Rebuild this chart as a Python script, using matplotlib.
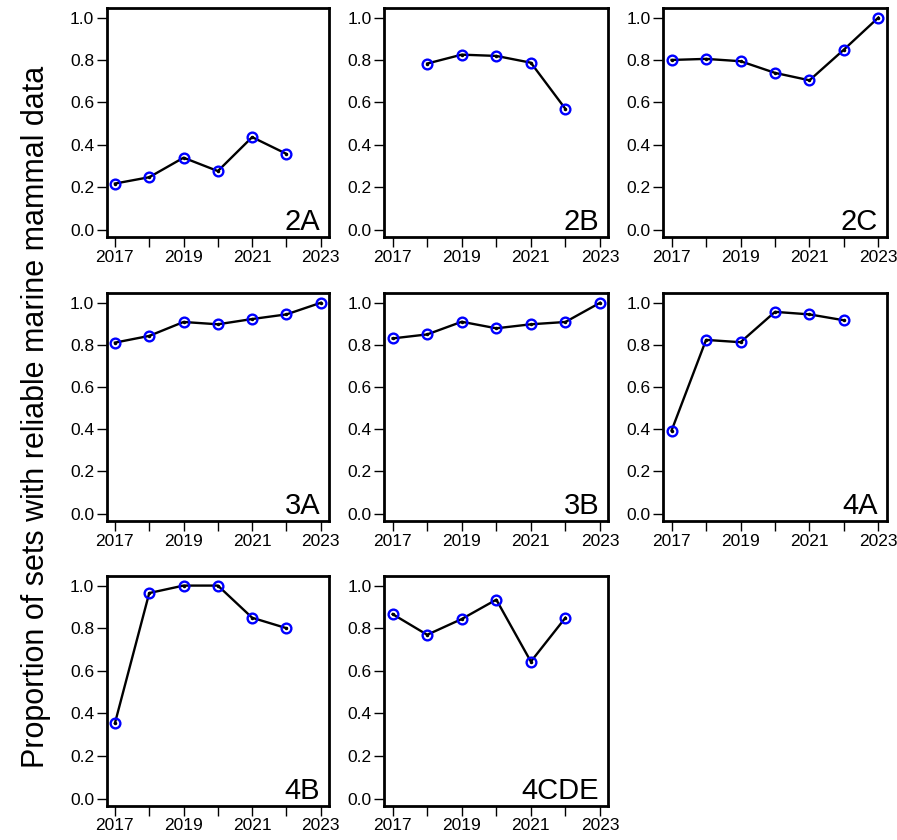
import matplotlib
matplotlib.use('Agg')
import matplotlib.pyplot as plt

plt.rcParams['font.family'] = ['Liberation Sans', 'DejaVu Sans']

# Datos por area
anios = [2017, 2018, 2019, 2020, 2021, 2022, 2023]
areas = ['2A', '2B', '2C', '3A', '3B', '4A', '4B', '4CDE']

a_2A = [0.217, 0.247, 0.339, 0.276, 0.436, 0.357, None]
a_2B = [None, 0.783, 0.825, 0.819, 0.787, 0.569, None]
a_2C = [0.800, 0.805, 0.794, 0.739, 0.704, 0.849, 1.0]
a_3A = [0.811, 0.843, 0.909, 0.898, 0.923, 0.945, 1.0]
a_3B = [0.831, 0.850, 0.910, 0.879, 0.898, 0.909, 1.0]
a_4A = [0.394, 0.824, 0.813, 0.957, 0.945, 0.917, None]
a_4B = [0.354, 0.965, 1.0, 1.0, 0.849, 0.800, None]
a_4CDE = [0.866, 0.769, 0.843, 0.934, 0.643, 0.849, None]
valores = [a_2A, a_2B, a_2C, a_3A, a_3B, a_4A, a_4B, a_4CDE]

W, H = 897, 840
fig = plt.figure(figsize=(W / 100, H / 100), dpi=100)

# posiciones de los paneles en pixeles (izq, der) y (arriba, abajo)
cols = [(106.7, 329), (384.3, 608.3), (663.3, 886.7)]
filas = [(8, 237), (293.3, 521), (576, 806)]

for i, (area, vals) in enumerate(zip(areas, valores)):
    x0, x1 = cols[i % 3]
    y0, y1 = filas[i // 3]
    ax = fig.add_axes([x0 / W, 1 - y1 / H, (x1 - x0) / W, (y1 - y0) / H])
    xs = [a for a, v in zip(anios, vals) if v is not None]
    ys = [v for v in vals if v is not None]
    ax.plot(xs, ys, color='black', lw=1.7, zorder=2)
    ax.plot(xs, ys, 'o', mfc='none', mec='blue', ms=7, mew=1.7, zorder=3)
    ax.plot(xs, ys, 'o', color='black', ms=1.5, zorder=4)
    ax.set_xlim(2016.76, 2023.24)
    ax.set_ylim(-0.035, 1.045)
    ax.set_xticks(anios)
    ax.set_xticklabels([str(a) if a % 2 == 1 else '' for a in anios])
    ax.set_yticks([0, 0.2, 0.4, 0.6, 0.8, 1.0])
    ax.set_yticklabels(['0.0', '0.2', '0.4', '0.6', '0.8', '1.0'])
    ax.tick_params(direction='out', length=7, width=1, labelsize=12.5, pad=2)
    for s in ax.spines.values():
        s.set_linewidth(2)
    ax.text(0.96, 0.03, area, transform=ax.transAxes, ha='right', va='baseline', fontsize=21)

fig.text(36 / W, 1 - 417 / H, 'Proportion of sets with reliable marine mammal data',
         rotation=90, ha='center', va='center', fontsize=22)

plt.savefig('out.png', dpi=100)
